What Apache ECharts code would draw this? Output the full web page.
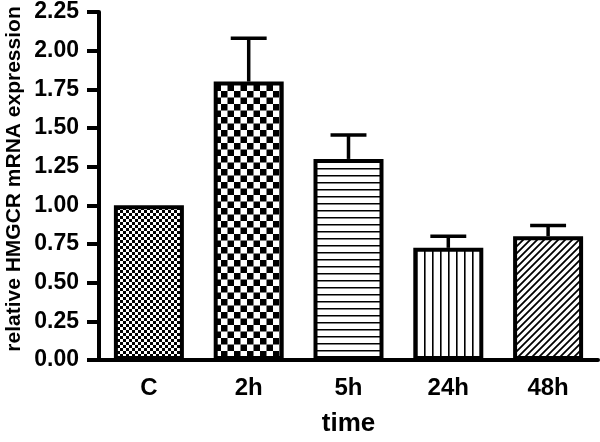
<!DOCTYPE html>
<html>
<head>
<meta charset="utf-8">
<script src="https://cdn.jsdelivr.net/npm/echarts@6/dist/echarts.min.js"></script>
<style>
html,body{margin:0;padding:0;background:#fff;}
#chart{width:600px;height:442px;}
</style>
</head>
<body>
<div id="chart"></div>
<script>
var categories = ['C', '2h', '5h', '24h', '48h'];
var means = [1.00, 1.80, 1.30, 0.725, 0.80];
var errors = [0, 0.28, 0.155, 0.075, 0.07];
var yAxisTitle = 'relative HMGCR mRNA expression';
var xAxisTitle = 'time';
var FONT = '"Liberation Sans", Arial, Helvetica, sans-serif';

function makePattern(kind) {
  var c = document.createElement('canvas');
  var ctx;
  if (kind === 'fineCheck') {
    c.width = 6; c.height = 6; ctx = c.getContext('2d');
    ctx.fillStyle = '#fff'; ctx.fillRect(0, 0, 6, 6);
    ctx.fillStyle = '#000'; ctx.fillRect(0, 0, 3, 3); ctx.fillRect(3, 3, 3, 3);
  } else if (kind === 'coarseCheck') {
    c.width = 13; c.height = 13; ctx = c.getContext('2d');
    ctx.fillStyle = '#fff'; ctx.fillRect(0, 0, 13, 13);
    ctx.fillStyle = '#000'; ctx.fillRect(0, 0, 6.5, 6.5); ctx.fillRect(6.5, 6.5, 6.5, 6.5);
  } else if (kind === 'hlines') {
    c.width = 7; c.height = 7; ctx = c.getContext('2d');
    ctx.fillStyle = '#fff'; ctx.fillRect(0, 0, 7, 7);
    ctx.fillStyle = '#000'; ctx.fillRect(0, 0, 7, 1.5);
  } else if (kind === 'vlines') {
    c.width = 8; c.height = 8; ctx = c.getContext('2d');
    ctx.fillStyle = '#fff'; ctx.fillRect(0, 0, 8, 8);
    ctx.fillStyle = '#000'; ctx.fillRect(0, 0, 1.6, 8);
  } else if (kind === 'diag') {
    var s = 7;
    c.width = s; c.height = s; ctx = c.getContext('2d');
    ctx.fillStyle = '#fff'; ctx.fillRect(0, 0, s, s);
    ctx.strokeStyle = '#000'; ctx.lineWidth = 1.8;
    ctx.beginPath();
    ctx.moveTo(-1, s + 1); ctx.lineTo(s + 1, -1);
    ctx.moveTo(-1, 1); ctx.lineTo(1, -1);
    ctx.moveTo(s - 1, s + 1); ctx.lineTo(s + 1, s - 1);
    ctx.stroke();
  }
  return { image: c, repeat: 'repeat' };
}

var patternKinds = ['fineCheck', 'coarseCheck', 'hlines', 'vlines', 'diag'];

var barData = means.map(function (v, i) {
  return {
    value: v,
    itemStyle: { color: makePattern(patternKinds[i]), borderColor: '#000', borderWidth: 4 }
  };
});

var errData = means.map(function (v, i) { return [i, v, v + errors[i]]; });

var chart = echarts.init(document.getElementById('chart'), null, { renderer: 'canvas' });
chart.setOption({
  animation: false,
  backgroundColor: '#fff',
  grid: { left: 99, right: 2, top: 12, bottom: 79, containLabel: false },
  xAxis: {
    type: 'category',
    data: categories,
    name: xAxisTitle,
    nameLocation: 'middle',
    nameGap: 51,
    nameTextStyle: { fontFamily: FONT, fontWeight: 'bold', fontSize: 26, color: '#000' },
    axisLine: { lineStyle: { color: '#000', width: 4 } },
    axisTick: { alignWithLabel: true, length: 12, lineStyle: { color: '#000', width: 4 } },
    axisLabel: { color: '#000', fontFamily: FONT, fontWeight: 'bold', fontSize: 24, margin: 16 }
  },
  yAxis: {
    type: 'value',
    min: 0, max: 2.25, interval: 0.25,
    axisLine: { show: true, lineStyle: { color: '#000', width: 4 } },
    axisTick: { show: true, length: 12, lineStyle: { color: '#000', width: 4 } },
    splitLine: { show: false },
    axisLabel: {
      color: '#000', fontFamily: FONT, fontWeight: 'bold', fontSize: 23, margin: 20,
      formatter: function (v) { return v.toFixed(2); }
    }
  },
  graphic: [{
    type: 'text',
    x: 14, y: 179,
    rotation: Math.PI / 2,
    style: {
      text: yAxisTitle,
      font: 'bold 21px ' + FONT,
      fill: '#000',
      textAlign: 'center',
      textVerticalAlign: 'middle'
    }
  }],
  series: [{
    type: 'bar',
    data: barData,
    barWidth: 70,
    z: 2
  }, {
    type: 'custom',
    data: errData,
    z: 1,
    renderItem: function (params, api) {
      var i = api.value(0);
      var lo = api.coord([i, api.value(1)]);
      var hi = api.coord([i, api.value(2)]);
      if (api.value(2) - api.value(1) <= 0) return null;
      var half = api.size([1, 0])[0] * 0.18;
      var st = { stroke: '#000', lineWidth: 3.5, fill: null };
      return {
        type: 'group',
        children: [
          { type: 'line', shape: { x1: lo[0], y1: lo[1], x2: hi[0], y2: hi[1] }, style: st },
          { type: 'line', shape: { x1: hi[0] - half, y1: hi[1], x2: hi[0] + half, y2: hi[1] }, style: st }
        ]
      };
    }
  }]
});
</script>
</body>
</html>
